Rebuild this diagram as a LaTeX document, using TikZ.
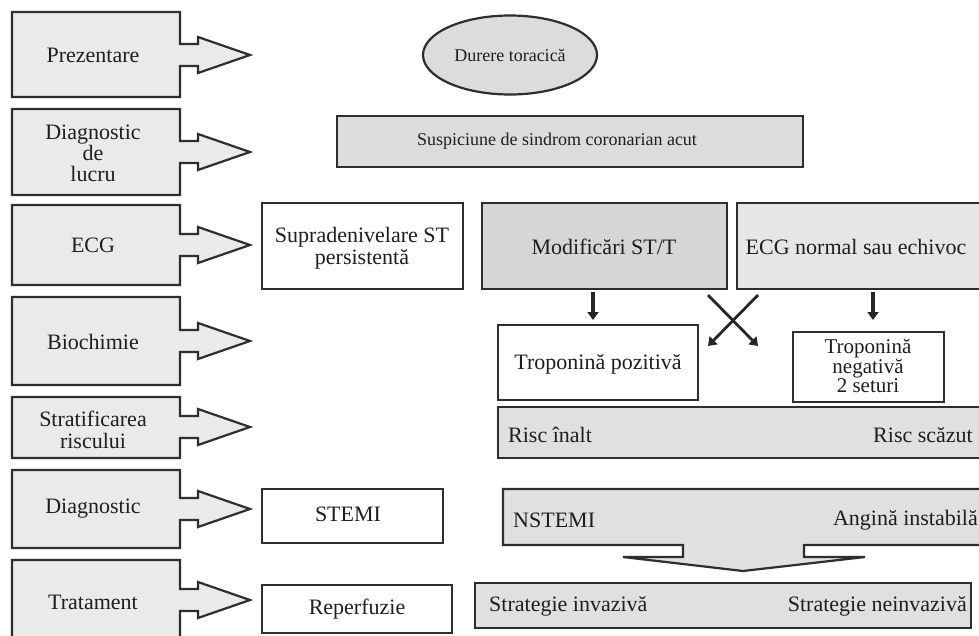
\documentclass[tikz,border=0pt]{standalone}
\usepackage{fontspec}
\setmainfont{Liberation Serif}
\usetikzlibrary{arrows.meta,shapes.geometric}
\definecolor{txt}{HTML}{1E1E1E}
\definecolor{edge}{HTML}{2E2E2E}
\definecolor{lbox}{HTML}{EAEAEA}
\definecolor{gbox}{HTML}{DCDCDC}
\definecolor{mbox}{HTML}{D6D6D6}
\definecolor{pbox}{HTML}{E6E6E6}
\tikzset{
  shapeline/.style={draw=edge, line width=2.2pt, line join=miter},
  lbl/.style={text=txt, font=\fontsize{22}{22}\selectfont, align=center, inner sep=0pt},
  sml/.style={text=txt, font=\fontsize{18}{18}\selectfont, align=center, inner sep=0pt},
  wbox/.style={shapeline, fill=white},
  gfill/.style={shapeline, fill=gbox},
  downarrow/.style={draw=black!85, line width=3.4pt, -{Triangle[length=8pt,width=11pt]}},
}
\begin{document}
\begin{tikzpicture}[x=1pt,y=-1pt]
\useasboundingbox (0,0) rectangle (979,635);
\clip (0,0) rectangle (979,635);
\fill[white] (0,0) rectangle (979,635);

% left stage shapes: top, bottom, centre
\foreach \t/\b/\c in {12/97/55, 109/195/152, 205/285/245, 297/385/341, 397/458/427, 470/548/509, 560/645/600}{
  \draw[shapeline, fill=lbox] (12,\t) -- (180,\t) -- (180,\c-11) -- (198,\c-11) -- (198,\c-18)
     -- (250,\c) -- (198,\c+18) -- (198,\c+11) -- (180,\c+11) -- (180,\b) -- (12,\b) -- cycle;
}
\node[lbl] (l1) at (93,55) {Prezentare};
\node[lbl, font=\fontsize{22}{21}\selectfont] (l2) at (93,153) {Diagnostic\\de\\lucru};
\node[lbl] (l3) at (93,245) {ECG};
\node[lbl] (l4) at (93,342) {Biochimie};
\node[lbl] (l5) at (93,430) {Stratificarea\\riscului};
\node[lbl] (l6) at (93,509) {Diagnostic};
\node[lbl] (l7) at (93,602) {Tratament};

% top
\node[shapeline, fill=gbox, ellipse, minimum width=174pt, minimum height=79pt, inner sep=0pt] (pain) at (510,55) {};
\node[sml] at (pain.center) {Durere toracică};
\draw[gfill] (337,116) rectangle (803,167);
\node[sml] (sus) at (557,141) {Suspiciune de sindrom coronarian acut};

% ECG row
\draw[wbox] (262,203) rectangle (463,289);
\node[lbl] (ste) at (362,248) {Supradenivelare ST\\persistentă};
\draw[shapeline, fill=mbox] (482,203) rectangle (727,289);
\node[lbl] (mod) at (604,247) {Modificări ST/T};
\draw[shapeline, fill=pbox] (737,203) rectangle (995,289);
\node[lbl] (norm) at (856,247) {ECG normal sau echivoc};

% biochemistry
\coordinate (a1s) at (593,292); \coordinate (a1e) at (593,320);
\coordinate (a2s) at (873,292); \coordinate (a2e) at (873,320);
\draw[downarrow] (a1s) -- (a1e);
\draw[downarrow] (a2s) -- (a2e);
\coordinate (x1s) at (708,295); \coordinate (x1e) at (758,346);
\coordinate (x2s) at (758,295); \coordinate (x2e) at (708,346);
\draw[downarrow, line width=2.8pt] (x1s) -- (x1e);
\draw[downarrow, line width=2.8pt] (x2s) -- (x2e);
\draw[wbox] (498,325) rectangle (698,400);
\node[lbl] (tpos) at (598,364) {Troponină pozitivă};
\draw[wbox] (793,332) rectangle (944,402);
\node[lbl, font=\fontsize{21}{18}\selectfont] (tneg) at (868,366) {Troponină\\negativă\\2 seturi};

% risk
\draw[shapeline, fill=gbox!70!lbox] (498,407) rectangle (995,458);
\node[lbl, anchor=west] (rh) at (508,435) {Risc înalt};
\node[lbl, anchor=east] (rl) at (973,435) {Risc scăzut};

% diagnosis
\draw[wbox] (262,489) rectangle (443,543);
\node[lbl] (stemi) at (348,514) {STEMI};
\draw[shapeline, fill=gbox!70!lbox] (503,489) -- (995,489) -- (995,545) -- (804,545) -- (804,557)
   -- (865,557) -- (743,571) -- (623,557) -- (683,557) -- (683,545) -- (503,545) -- cycle;
\node[lbl, anchor=west] (nst) at (513,520) {NSTEMI};
\node[lbl, anchor=east] (ua) at (978,520) {Angină instabilă};

% treatment
\draw[wbox] (262,585) rectangle (452,633);
\node[lbl] (rep) at (357,609) {Reperfuzie};
\draw[shapeline, fill=gbox!70!lbox] (475,583) rectangle (971,628);
\node[lbl, anchor=west] (inv) at (489,606) {Strategie invazivă};
\node[lbl, anchor=east] (ninv) at (967,606) {Strategie neinvazivă};
\end{tikzpicture}
\end{document}
